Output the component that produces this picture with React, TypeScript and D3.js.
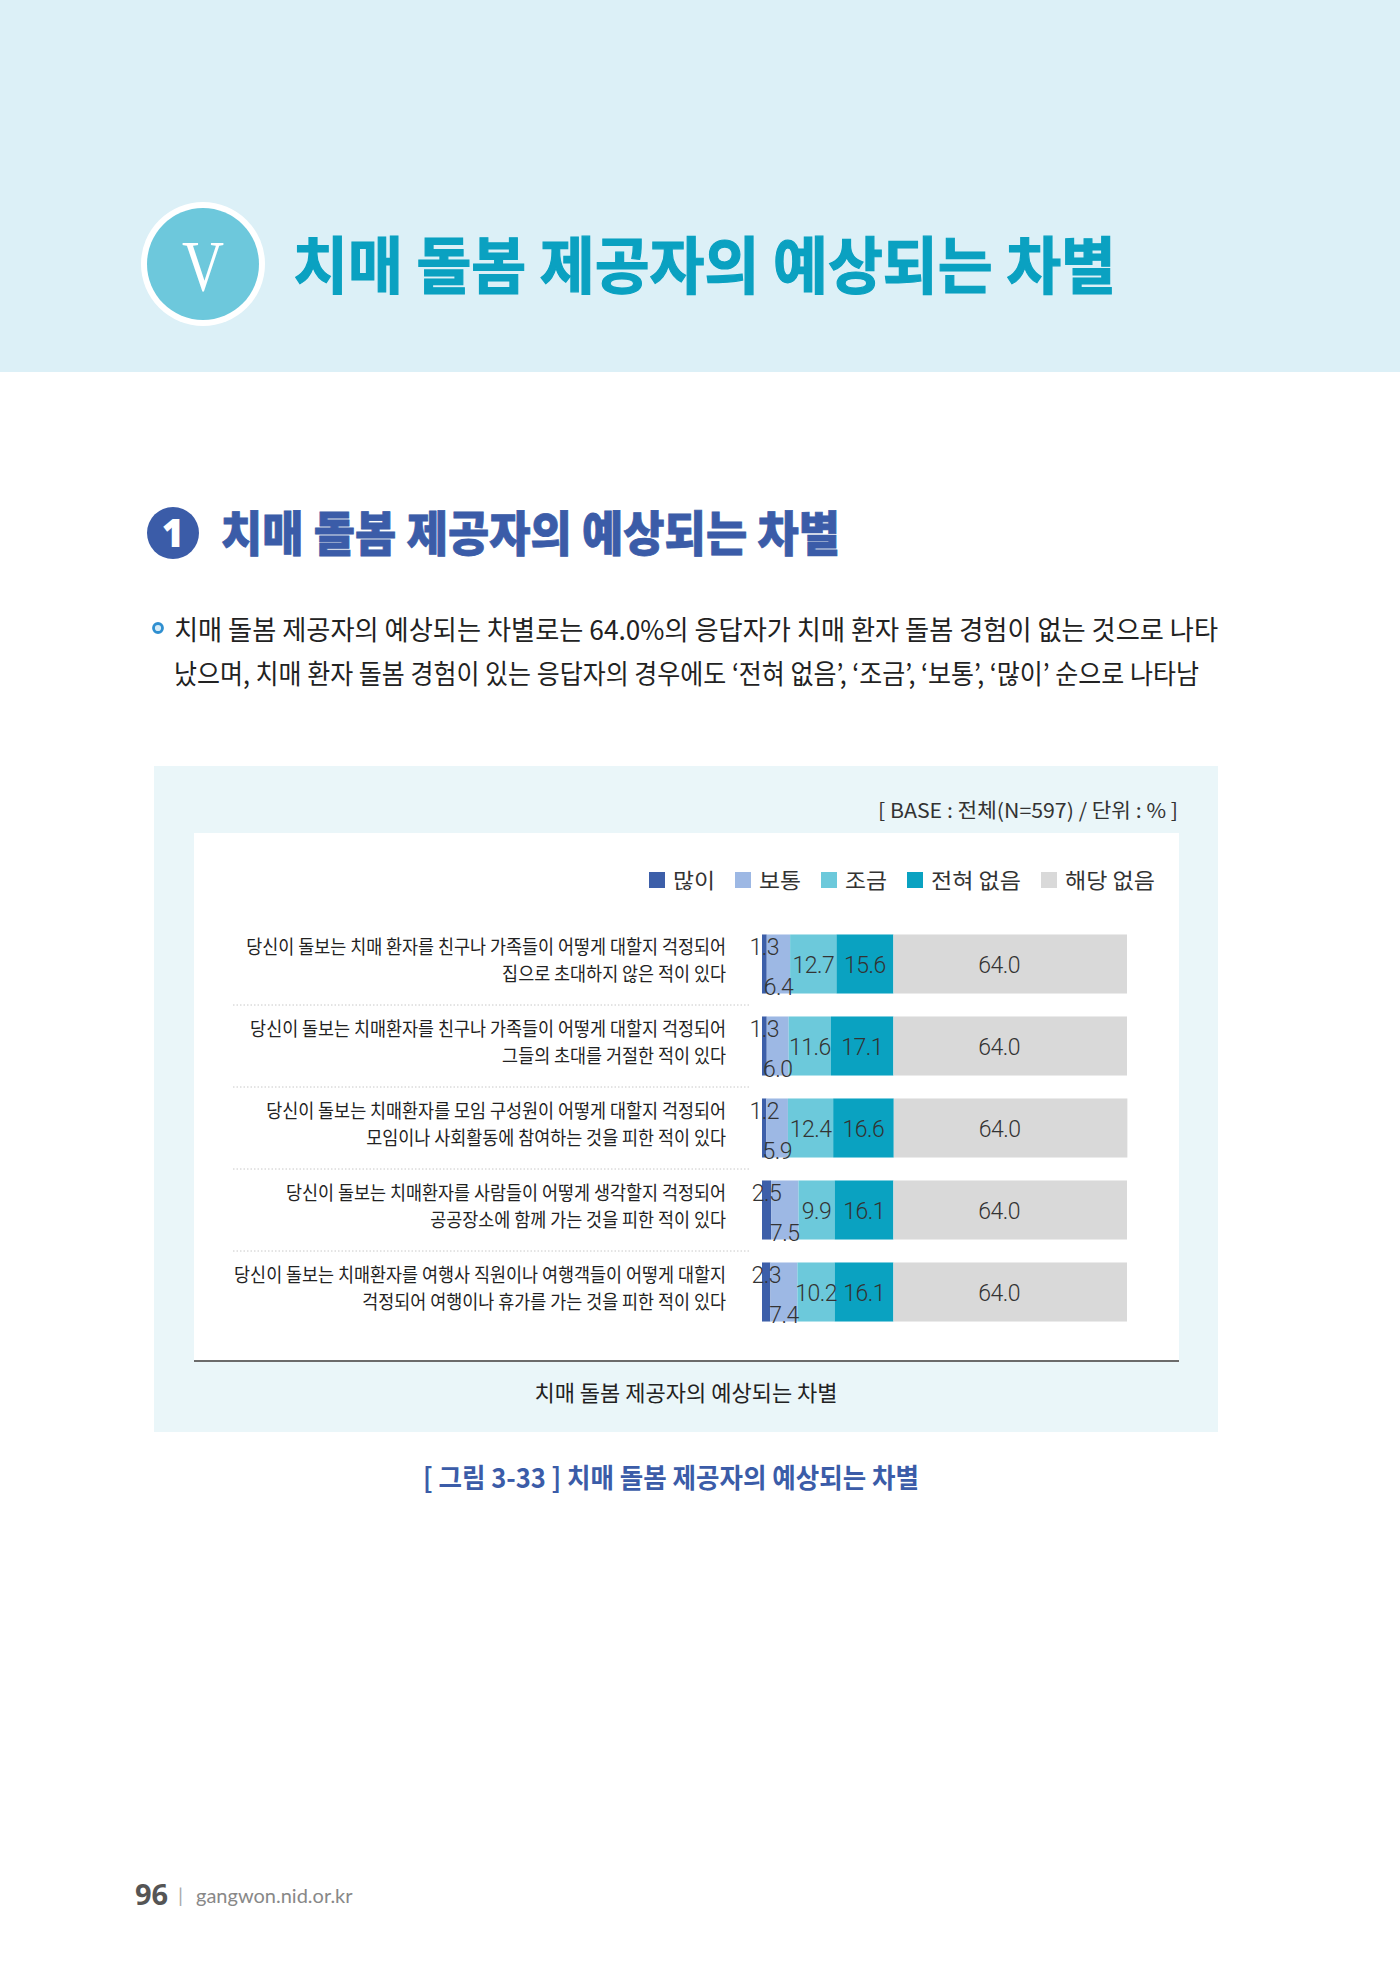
import React from 'react';
import * as d3 from 'd3';

const categories = [
  ['당신이 돌보는 치매 환자를 친구나 가족들이 어떻게 대할지 걱정되어', '집으로 초대하지 않은 적이 있다'],
  ['당신이 돌보는 치매환자를 친구나 가족들이 어떻게 대할지 걱정되어', '그들의 초대를 거절한 적이 있다'],
  ['당신이 돌보는 치매환자를 모임 구성원이 어떻게 대할지 걱정되어', '모임이나 사회활동에 참여하는 것을 피한 적이 있다'],
  ['당신이 돌보는 치매환자를 사람들이 어떻게 생각할지 걱정되어', '공공장소에 함께 가는 것을 피한 적이 있다'],
  ['당신이 돌보는 치매환자를 여행사 직원이나 여행객들이 어떻게 대할지', '걱정되어 여행이나 휴가를 가는 것을 피한 적이 있다'],
];
const seriesNames = ['많이', '보통', '조금', '전혀 없음', '해당 없음'];
const seriesColors = ['#3d5fa9', '#9db8e4', '#6cc9db', '#0aa2c1', '#d9d9d9'];
const many = [1.3, 1.3, 1.2, 2.5, 2.3];
const normal = [6.4, 6.0, 5.9, 7.5, 7.4];
const little = [12.7, 11.6, 12.4, 9.9, 10.2];
const none = [15.6, 17.1, 16.6, 16.1, 16.1];
const notApplicable = [64.0, 64.0, 64.0, 64.0, 64.0];

const pageTitle = '치매 돌봄 제공자의 예상되는 차별';
const sectionTitle = '치매 돌봄 제공자의 예상되는 차별';
const bodyLines = [
  '치매 돌봄 제공자의 예상되는 차별로는 64.0%의 응답자가 치매 환자 돌봄 경험이 없는 것으로 나타',
  '났으며, 치매 환자 돌봄 경험이 있는 응답자의 경우에도 ‘전혀 없음’, ‘조금’, ‘보통’, ‘많이’ 순으로 나타남',
];
const baseNote = '[ BASE : 전체(N=597) / 단위 : % ]';
const chartCaption = '치매 돌봄 제공자의 예상되는 차별';
const figureCaption = '[ 그림 3-33 ] 치매 돌봄 제공자의 예상되는 차별';

const KR = '"Noto Sans CJK KR", "Noto Sans", sans-serif';

export default function App() {
  const rows = categories.map((c, i) => ({
    key: String(i),
    v0: many[i], v1: normal[i], v2: little[i], v3: none[i], v4: notApplicable[i],
  }));
  const keys = ['v0', 'v1', 'v2', 'v3', 'v4'];
  const stacked = d3.stack<any>().keys(keys)(rows);

  const x = d3.scaleLinear().domain([0, 100]).range([762, 1127]);
  const y = d3.scaleBand<string>()
    .domain(rows.map((r) => r.key))
    .range([923, 1333])
    .paddingInner(0.28)
    .paddingOuter(0.14);
  const bw = y.bandwidth();
  const fmt = d3.format('.1f');

  // legend layout
  const legFont = 21;
  const textW = (s: string) => {
    let w = 0;
    for (const ch of s) w += ch === ' ' ? 6 : 21;
    return w;
  };
  const legendItems: { name: string; color: string; x: number; w: number }[] = [];
  {
    let cx = 649;
    seriesNames.forEach((n, i) => {
      legendItems.push({ name: n, color: seriesColors[i], x: cx, w: textW(n) });
      cx += 24 + textW(n) + 20;
    });
  }

  return (
    <svg
      width={1400}
      height={1980}
      style={{ position: 'absolute', left: 0, top: 0, display: 'block', background: '#fff' }}
      fontFamily={KR}
    >
      {/* header band */}
      <rect x={0} y={0} width={1400} height={372} fill="#dcf0f7" />
      <circle cx={203} cy={264} r={62} fill="#ffffff" />
      <circle cx={203} cy={264} r={56} fill="#6dc8dc" />
      <text x={203} y={290} textAnchor="middle" fontFamily='"Liberation Serif", "DejaVu Serif", serif'
        fontSize={72} fill="#fff" textLength={42} lengthAdjust="spacingAndGlyphs">V</text>
      <text x={293} y={289} fontSize={62} fontWeight={700} fill="#0aa1c1" stroke="#0aa1c1" strokeWidth={1.2}
        textLength={823} lengthAdjust="spacingAndGlyphs">{pageTitle}</text>

      {/* section title */}
      <circle cx={173} cy={533} r={26} fill="#3b5ca8" />
      <text x={173} y={547} textAnchor="middle" fontSize={38} fontWeight={800} fill="#fff"
        fontFamily='"Open Sans", sans-serif'>1</text>
      <text x={221} y={551} fontSize={48} fontWeight={900} fill="#3b5ca8" stroke="#3b5ca8" strokeWidth={0.8}
        textLength={619} lengthAdjust="spacingAndGlyphs">{sectionTitle}</text>

      {/* body text */}
      <circle cx={158} cy={628} r={4.5} fill="#d6ecf8" stroke="#2f8fd0" strokeWidth={2.8} />
      <text x={174} y={640} fontSize={27} fill="#222" textLength={1044} lengthAdjust="spacingAndGlyphs">{bodyLines[0]}</text>
      <text x={174} y={684} fontSize={27} fill="#222" textLength={1025} lengthAdjust="spacingAndGlyphs">{bodyLines[1]}</text>

      {/* chart box */}
      <rect x={154} y={766} width={1064} height={666} fill="#eaf6f9" />
      <text x={1178} y={818} textAnchor="end" fontSize={20} fill="#333"
        textLength={300} lengthAdjust="spacingAndGlyphs">{baseNote}</text>
      <rect x={194} y={833} width={985} height={528} fill="#ffffff" />
      <line x1={194} x2={1179} y1={1361} y2={1361} stroke="#6b6b6b" strokeWidth={2} />
      <text x={686} y={1401} textAnchor="middle" fontSize={22} fill="#222">{chartCaption}</text>

      {/* legend */}
      {legendItems.map((it) => (
        <g key={it.name}>
          <rect x={it.x} y={872} width={16} height={16} fill={it.color} />
          <text x={it.x + 24} y={888} fontSize={legFont} fill="#333"
            textLength={it.w} lengthAdjust="spacingAndGlyphs">{it.name}</text>
        </g>
      ))}

      {/* separators */}
      {rows.slice(1).map((r, i) => {
        const yy = (y(rows[i].key)! + bw + y(r.key)!) / 2;
        return (
          <line key={'sep' + i} x1={233} x2={749} y1={yy} y2={yy}
            stroke="#c8c8c8" strokeWidth={1} strokeDasharray="1.5 2" />
        );
      })}

      {/* category labels */}
      {rows.map((r, i) => {
        const cy = y(r.key)! + bw / 2;
        return (
          <g key={'lab' + i} transform={`translate(726,0) scale(0.917,1)`}>
            <text x={0} y={cy - 10} textAnchor="end" fontSize={19} fill="#222">{categories[i][0]}</text>
            <text x={0} y={cy + 17} textAnchor="end" fontSize={19} fill="#222">{categories[i][1]}</text>
          </g>
        );
      })}

      {/* bars */}
      {stacked.map((s, si) => (
        <g key={'s' + si} fill={seriesColors[si]}>
          {s.map((d, i) => (
            <rect key={i} x={x(d[0])} width={x(d[1]) - x(d[0])} y={y(rows[i].key)!} height={bw} />
          ))}
        </g>
      ))}

      {/* value labels */}
      {stacked.map((s, si) => (
        <g key={'vl' + si}>
          {s.map((d, i) => {
            const top = y(rows[i].key)!;
            const cx = (x(d[0]) + x(d[1])) / 2 + (si === 4 ? -11 : 0);
            let ty = top + bw / 2 + 9;
            if (si === 0) ty = top + 21;
            if (si === 1) ty = top + bw + 1;
            return (
              <text key={i} x={cx} y={ty} textAnchor="middle" fontSize={23}
                fontFamily='"Roboto", "Noto Sans", sans-serif' fontWeight={300} fill="#333"
                letterSpacing={-0.5}>
                {fmt(d[1] - d[0])}
              </text>
            );
          })}
        </g>
      ))}

      {/* figure caption */}
      <text x={671} y={1488} textAnchor="middle" fontSize={27} fontWeight={700} fill="#3b5ca8"
        textLength={496} lengthAdjust="spacingAndGlyphs">{figureCaption}</text>

      {/* footer */}
      <text x={135} y={1905} fontSize={29} fontWeight={700} fill="#555" fontFamily='"Open Sans", sans-serif'>96</text>
      <text x={178} y={1903} fontSize={20} fill="#aaa" fontFamily='"Lato", sans-serif'>|</text>
      <text x={196} y={1903} fontSize={20} fill="#888" fontFamily='"Lato", sans-serif'>gangwon.nid.or.kr</text>
    </svg>
  );
}
